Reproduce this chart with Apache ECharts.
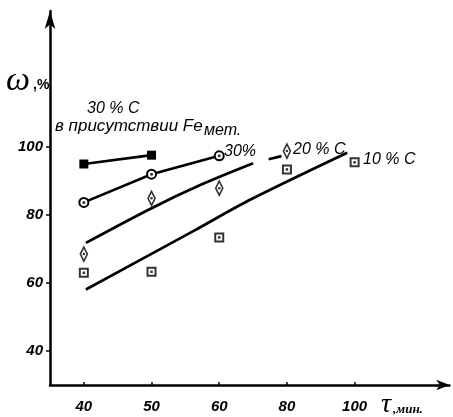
<!DOCTYPE html>
<html>
<head>
<meta charset="utf-8">
<script src="https://cdn.jsdelivr.net/npm/echarts@6/dist/echarts.min.js"></script>
<style>
html,body{margin:0;padding:0;background:#fff;}
#chart{width:453px;height:417px;}
</style>
</head>
<body>
<div id="chart"></div>
<script>
// categories along the time axis (equally spaced in the drawing)
const categories = ['40', '50', '60', '80', '100'];
const catIndex = [0, 1, 2, 3, 4];
const yTickValues = [40, 60, 80, 100];

// measured points
const fe30Values = [95.0, 97.6];              // 30 % C в присутствии Fe мет. (cats 40, 50)
const c30Values  = [83.7, 92.0, 97.4];        // 30 %  (cats 40, 50, 60)
const c20Values  = [68.5, 84.9, 87.9, 98.8];  // 20 % C (cats 40, 50, 60, 80)
const c10Values  = [63.0, 63.3, 73.4, 93.4, 95.5]; // 10 % C (cats 40..100)

// fitted curves (x in category-index units)
const c20FitX = [0.03, 1.0, 1.72, 2.5];
const c20FitY = [71.8, 82.0, 88.8, 95.2];
const c20DashX = [2.73, 2.92];
const c20DashY = [96.4, 97.3];
const c10FitX = [0.03, 1.63, 2.47, 3.89];
const c10FitY = [58.1, 75.4, 84.6, 98.3];

const pairs = (xs, ys) => ys.map((v, i) => [xs[i], v]);

const chart = echarts.init(document.getElementById('chart'), null, {renderer: 'canvas'});
const labelFont = {fontFamily: 'Liberation Sans', fontWeight: 'bold', fontStyle: 'italic', fontSize: 15, color: '#000'};
const hollow = {color: '#fff', borderColor: '#000', borderWidth: 2};

chart.setOption({
  backgroundColor: '#fff',
  animation: false,
  grid: {left: 50, top: 11, width: 399.4, height: 374},
  xAxis: {
    type: 'value', min: -0.5, max: 5.4,
    splitLine: {show: false},
    axisLine: {show: true, onZero: false, lineStyle: {color: '#000', width: 2.5}, symbol: ['none', 'arrow'], symbolSize: [8, 13]},
    axisTick: {show: true, inside: true, length: 3, customValues: catIndex, lineStyle: {color: '#000', width: 1.5}},
    axisLabel: Object.assign({customValues: catIndex, margin: 14, formatter: v => categories[Math.round(v)]}, labelFont)
  },
  yAxis: {
    type: 'value', min: 30, max: 140,
    splitLine: {show: false},
    axisLine: {show: true, onZero: false, lineStyle: {color: '#000', width: 2.5}, symbol: ['none', 'arrow'], symbolSize: [8, 18]},
    axisTick: {show: true, length: 4, customValues: yTickValues, lineStyle: {color: '#000', width: 1.5}},
    axisLabel: Object.assign({customValues: yTickValues, margin: 7}, labelFont)
  },
  series: [
    {type: 'line', data: pairs(c10FitX, c10FitY), smooth: 0.3, symbol: 'none', lineStyle: {color: '#000', width: 2.8}, z: 2},
    {type: 'line', data: pairs(c20FitX, c20FitY), smooth: 0.3, symbol: 'none', lineStyle: {color: '#000', width: 2.8}, z: 2},
    {type: 'line', data: pairs(c20DashX, c20DashY), symbol: 'none', lineStyle: {color: '#000', width: 2.8}, z: 2},
    {type: 'line', data: pairs(catIndex, fe30Values), symbol: 'rect', symbolSize: 9,
      itemStyle: {color: '#000'}, lineStyle: {color: '#000', width: 2.6}, z: 3},
    {type: 'line', data: pairs(catIndex, c30Values), symbol: 'circle', symbolSize: 9,
      itemStyle: hollow, lineStyle: {color: '#000', width: 2.6}, z: 3},
    {type: 'scatter', data: pairs(catIndex, c30Values), symbol: 'circle', symbolSize: 3, itemStyle: {color: '#000'}, z: 4},
    {type: 'scatter', data: pairs(catIndex, c20Values), symbol: 'diamond', symbolSize: [7, 14], itemStyle: {color: '#fff', borderColor: '#000', borderWidth: 1.8}, z: 4},
    {type: 'scatter', data: pairs(catIndex, c20Values), symbol: 'circle', symbolSize: 2.5, itemStyle: {color: '#000'}, z: 5},
    {type: 'scatter', data: pairs(catIndex, c10Values), symbol: 'rect', symbolSize: 8, itemStyle: hollow, z: 4},
    {type: 'scatter', data: pairs(catIndex, c10Values), symbol: 'rect', symbolSize: 2.5, itemStyle: {color: '#000'}, z: 5}
  ],
  graphic: [
    {type: 'text', style: {text: 'ω', x: 18, y: 81, font: 'italic 34px "Liberation Serif"', fill: '#000', textAlign: 'center', textVerticalAlign: 'middle'}},
    {type: 'text', style: {text: ',%', x: 33, y: 85, font: 'bold 14px "Liberation Sans"', fill: '#000', textAlign: 'left', textVerticalAlign: 'middle'}},
    {type: 'text', style: {text: '30 % C', x: 87, y: 109, font: 'italic 16px "Liberation Sans"', fill: '#000', textAlign: 'left', textVerticalAlign: 'middle'}},
    {type: 'text', style: {text: 'в присутствии Fe', x: 55, y: 126, font: 'italic 17px "Liberation Sans"', fill: '#000', textAlign: 'left', textVerticalAlign: 'middle'}},
    {type: 'text', style: {text: 'мет.', x: 204, y: 131, font: 'italic 16px "Liberation Sans"', fill: '#000', textAlign: 'left', textVerticalAlign: 'middle'}},
    {type: 'text', style: {text: '30%', x: 224, y: 152, font: 'italic 16px "Liberation Sans"', fill: '#000', textAlign: 'left', textVerticalAlign: 'middle'}},
    {type: 'text', style: {text: '20 % C', x: 293, y: 150, font: 'italic 16px "Liberation Sans"', fill: '#000', textAlign: 'left', textVerticalAlign: 'middle'}},
    {type: 'text', style: {text: '10 % C', x: 363, y: 160, font: 'italic 16px "Liberation Sans"', fill: '#000', textAlign: 'left', textVerticalAlign: 'middle'}},
    {type: 'text', style: {text: 'τ', x: 386, y: 405, font: 'italic 28px "Liberation Serif"', fill: '#000', textAlign: 'center', textVerticalAlign: 'middle'}},
    {type: 'text', style: {text: ',мин.', x: 393, y: 410, font: 'bold italic 13px "Liberation Serif"', fill: '#000', textAlign: 'left', textVerticalAlign: 'middle'}}
  ]
});
</script>
</body>
</html>
